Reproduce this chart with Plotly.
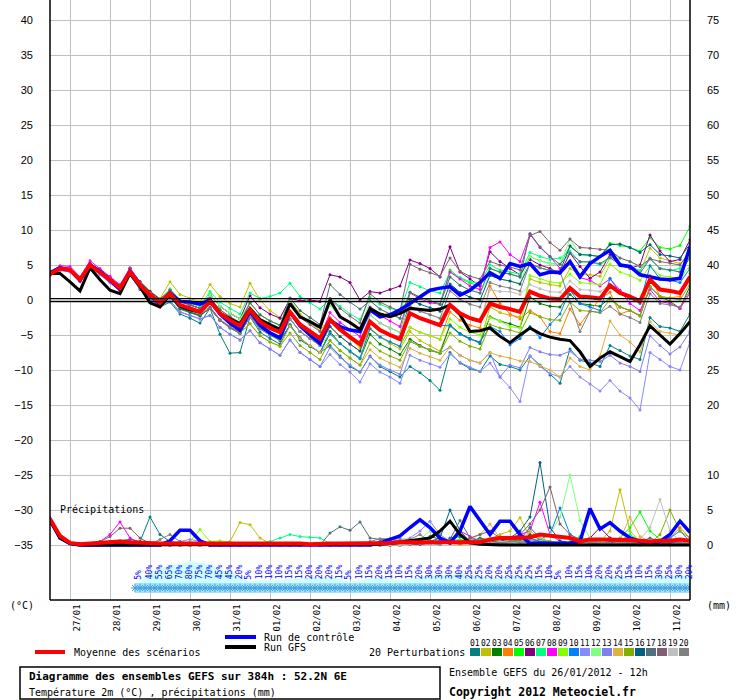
import plotly.graph_objects as go

# time steps every 6 h from 26/01 12h to 384 h
hours = list(range(0, 385, 6))

dates = ["27/01", "28/01", "29/01", "30/01", "31/01", "01/02", "02/02", "03/02",
         "04/02", "05/02", "06/02", "07/02", "08/02", "09/02", "10/02", "11/02"]
date_hours = [12 + 24 * k for k in range(len(dates))]

left_ticks = [40, 35, 30, 25, 20, 15, 10, 5, 0, -5, -10, -15, -20, -25, -30, -35]
right_ticks = [75, 70, 65, 60, 55, 50, 45, 40, 35, 30, 25, 20, 10, 5, 0]

# 2m temperature (°C)
t_mean = [3.7, 4.5, 4.3, 2.9, 5.0, 4.0, 2.9, 1.7, 4.0, 2.1, 0.7, -0.4, 0.9, -0.7, -1.2, -1.7,
          -0.2, -1.9, -2.9, -3.7, -1.4, -3.1, -4.0, -4.6, -1.7, -3.5, -4.5, -5.5, -2.8, -4.2, -5.3, -6.3,
          -3.1, -4.3, -5.0, -5.6, -1.9, -2.6, -3.1, -3.6, -0.7, -1.9, -2.6, -3.0, -0.5, -1.0, -1.3, -1.7,
          1.2, 0.6, 0.2, 0.1, 1.7, 0.5, 0.4, 0.2, 2.1, 1.0, 0.5, -0.2, 2.9, 1.5, 1.3, 1.0, 3.3]
t_gfs = [3.8, 3.8, 2.6, 1.3, 4.6, 2.9, 1.4, 0.9, 3.8, 1.9, -0.4, -1.0, 0.7, -0.9, -1.4, -1.7,
         -0.2, -1.9, -2.7, -3.4, -1.2, -2.8, -3.5, -4.2, -0.5, -2.4, -3.1, -3.9, 0.0, -2.4, -3.2, -4.2,
         -1.2, -2.0, -2.4, -1.9, -1.2, -1.3, -1.5, -1.3, -0.7, -2.1, -4.5, -4.4, -4.0, -5.2, -6.1, -5.0,
         -4.0, -4.8, -5.3, -5.6, -5.8, -7.4, -9.5, -8.3, -7.4, -8.1, -8.8, -6.4, -3.7, -5.0, -6.3, -4.8, -3.1]
t_ctrl = [3.9, 4.6, 4.3, 2.8, 5.0, 4.1, 2.8, 1.5, 4.1, 2.0, 0.6, -0.6, 1.0, -0.2, -0.3, -0.6,
          0.0, -2.0, -3.3, -4.3, -1.6, -3.6, -4.7, -5.4, -1.7, -3.7, -5.0, -6.2, -2.9, -3.8, -4.3, -4.5,
          -1.4, -2.4, -2.1, -1.4, -0.5, 0.5, 1.4, 1.7, 1.9, 0.7, 1.4, 2.5, 3.9, 3.1, 5.2, 4.8,
          5.2, 3.6, 4.0, 3.9, 5.5, 3.3, 5.2, 6.2, 7.1, 5.0, 4.8, 3.6, 3.3, 3.0, 2.9, 3.1, 7.6]

p01 = [3.6, 4.4, 4.2, 2.8, 5.1, 3.9, 2.7, 1.5, 3.6, 1.5, 0.1, -1.0, -0.3, -2.0, -2.6, -3.3,
       -1.2, -4.9, -7.6, -7.5, -2.4, -4.6, -5.5, -6.3, -3.5, -5.7, -6.6, -7.5, -6.5, -8.0, -9.5, -10.3,
       -8.0, -9.5, -10.2, -11.0, -9.5, -10.4, -11.5, -12.9, -7.5, -9.0, -9.8, -10.2, -8.0, -9.2, -9.5, -10.0,
       -8.0, -9.3, -10.7, -11.9, -7.0, -8.6, -9.0, -9.5, -6.5, -7.2, -8.0, -8.5, -2.5, -3.8, -4.0, -4.5, -2.0]
p02 = [3.8, 4.6, 4.4, 3.0, 5.3, 4.3, 3.2, 2.0, 4.5, 2.6, 1.3, 0.2, 2.6, 0.8, 0.2, -0.3,
       2.2, 0.5, -0.5, -1.0, 2.4, 0.0, -1.5, -2.5, 0.0, -2.0, -3.2, -4.4, -2.5, -4.0, -5.5, -6.8,
       -4.0, -5.2, -6.2, -7.0, -4.5, -5.8, -6.5, -7.3, -3.5, -4.8, -5.6, -6.0, -1.0, -1.8, -2.2, -2.4,
       3.0, 2.5, 2.2, 2.0, 4.5, 3.6, 3.6, 3.4, 6.0, 5.2, 4.7, 4.0, 7.4, 6.0, 5.6, 5.2, 6.5]
p03 = [3.7, 4.4, 4.2, 2.9, 4.9, 4.0, 2.9, 1.6, 4.1, 2.0, 0.6, -0.6, 0.4, -1.3, -1.8, -2.3,
       -1.1, -2.9, -4.0, -4.8, -2.2, -4.0, -5.0, -5.8, -3.6, -5.4, -6.6, -7.5, -4.5, -6.2, -7.4, -8.4,
       -4.9, -6.3, -7.0, -7.8, -5.6, -6.5, -7.2, -7.6, -3.6, -4.8, -5.5, -6.2, -2.4, -3.0, -3.4, -3.9,
       0.4, -0.5, -0.9, -1.0, 0.8, -0.5, -0.7, -0.9, 0.3, -1.0, -1.5, -2.3, 1.9, 0.5, -0.2, -1.2, 2.0]
p04 = [3.8, 4.6, 4.4, 3.0, 5.2, 4.2, 3.1, 1.9, 4.5, 2.6, 1.2, 0.1, 1.4, -0.2, -0.7, -1.2,
       0.3, -1.4, -2.4, -3.2, -0.4, -2.1, -3.0, -3.6, -1.7, -3.5, -4.5, -5.5, -3.8, -5.2, -6.3, -7.3,
       -4.1, -5.3, -6.0, -6.6, -3.9, -4.6, -5.1, -5.6, -1.7, -2.9, -3.6, -4.0, 2.0, -0.5, -2.0, -2.7,
       -1.5, -2.4, -4.5, -4.8, -1.3, -3.5, -1.6, 0.2, 1.1, -2.0, -1.5, -2.2, 3.5, 0.5, 0.3, 0.5, 3.8]
p05 = [3.7, 4.5, 4.3, 2.9, 5.0, 4.0, 2.9, 1.7, 4.5, 2.6, 1.2, 0.1, 1.4, -0.2, -0.7, -1.2,
       0.8, -0.9, -1.9, -2.7, -0.4, -2.1, -3.0, -3.6, -1.7, -3.5, -4.5, -5.5, -2.8, -4.2, -5.3, -6.3,
       -2.1, -3.3, -4.0, -4.6, 1.1, 0.4, -0.1, -0.6, 4.3, 3.1, 2.4, 2.0, 4.5, 4.0, 3.7, 3.3,
       6.2, 5.6, 5.2, 5.1, 7.7, 6.5, 6.4, 6.2, 8.1, 7.8, 7.5, 7.0, 8.9, 7.5, 7.3, 7.8, 10.5]
p06 = [3.8, 4.7, 4.5, 3.1, 5.2, 4.3, 3.2, 2.0, 4.5, 2.6, 1.2, 0.1, 1.4, -0.2, -0.7, -1.2,
       0.8, -0.9, -1.9, -2.7, 0.6, -1.1, -2.0, -2.6, 0.2, -0.1, 0.0, -0.2, 3.6, 3.3, 2.5, 0.0,
       1.2, 1.0, 1.5, 2.0, 5.7, 5.2, 4.5, 3.3, 7.6, 4.0, 3.0, 2.0, 6.9, 5.5, 4.5, 3.6,
       5.8, 5.0, 4.5, 3.8, 6.7, 4.8, 3.1, 4.0, 6.5, 5.0, 4.5, 5.0, 9.3, 7.0, 5.5, 5.8, 8.6]
p07 = [3.8, 4.6, 4.3, 2.9, 5.1, 4.1, 3.0, 1.8, 4.3, 2.3, 0.9, -0.1, 1.6, 0.0, -0.4, -0.9,
       1.2, -0.3, -1.2, -2.0, 1.0, 0.2, 0.5, 1.0, 2.4, 0.5, -0.4, -1.3, 0.2, -0.9, -2.0, -2.8,
       0.4, -0.6, -1.2, -1.6, 2.5, 1.9, 1.3, 1.0, 4.0, 3.2, 2.6, 2.4, 5.0, 4.3, 4.0, 3.7,
       6.8, 6.2, 5.8, 6.0, 7.0, 5.4, 5.5, 5.0, 6.0, 5.2, 4.8, 4.2, 6.0, 4.5, 4.2, 4.5, 6.0]
p08 = [4.0, 4.9, 4.8, 3.3, 5.6, 4.5, 3.4, 2.2, 4.6, 2.5, 0.9, -0.3, 0.8, -0.9, -1.4, -1.9,
       -1.0, -2.8, -3.8, -4.6, -2.3, -4.0, -4.8, -5.5, -1.7, -3.4, -4.4, -5.4, -1.8, -3.2, -4.2, -5.2,
       -1.0, -2.2, -3.0, -3.8, 1.0, 0.2, -0.4, -0.6, 4.0, 3.0, 2.0, 1.5, 7.5, 8.3, 6.5, 5.5,
       9.4, 7.5, 6.2, 4.5, 5.5, 3.2, 2.8, 2.0, 3.0, 1.4, -0.5, -1.5, 1.5, -0.2, -0.5, -1.2, 1.0]
p09 = [3.6, 4.4, 4.2, 2.8, 4.9, 3.9, 2.8, 1.6, 4.0, 2.1, 0.7, -0.4, 0.9, -0.7, -1.2, -1.7,
       -1.2, -2.9, -3.9, -4.7, -2.4, -4.1, -5.0, -5.6, -2.7, -4.5, -5.5, -6.5, -4.8, -6.2, -7.3, -8.3,
       -4.1, -5.3, -6.0, -6.6, -3.9, -4.6, -5.1, -5.6, -2.7, -3.9, -4.6, -5.0, -2.5, -3.0, -3.8, -4.0,
       3.5, 3.0, 2.6, 2.4, 3.7, 2.5, 2.4, 2.2, 5.1, 4.0, 3.5, 2.8, 4.9, 3.5, 3.3, 3.0, 5.0]
p10 = [3.7, 4.3, 4.1, 2.7, 4.8, 3.7, 2.6, 1.4, 4.0, 2.0, 0.6, -0.5, 0.4, -1.2, -1.7, -2.2,
       -1.2, -2.9, -3.9, -4.7, -2.4, -4.1, -5.0, -5.6, -3.7, -5.5, -6.5, -7.5, -4.8, -6.2, -7.3, -8.3,
       -4.1, -5.3, -6.0, -6.6, -1.9, -2.6, -3.1, -3.6, -3.7, -4.9, -5.6, -6.0, -3.8, -4.5, -6.4, -5.5,
       -3.8, -5.4, -3.5, -2.0, 1.4, -0.5, -1.0, -1.5, 3.1, 1.0, 0.2, -0.5, 4.9, 3.0, 2.8, 2.5, 4.5]
p11 = [3.6, 4.2, 4.0, 2.6, 4.7, 3.6, 2.5, 1.3, 3.5, 1.6, 0.2, -0.9, -0.1, -1.7, -2.2, -2.7,
       -2.2, -3.9, -4.9, -5.7, -4.4, -6.1, -7.0, -7.9, -5.7, -7.5, -8.5, -9.5, -7.8, -9.2, -10.3, -11.7,
       -9.1, -10.3, -11.0, -11.9, -7.9, -8.6, -9.1, -9.6, -7.7, -8.9, -9.6, -10.2, -9.0, -11.0, -12.5, -14.5,
       -8.0, -9.5, -10.5, -11.0, -9.5, -11.0, -12.0, -13.0, -11.5, -13.0, -14.0, -15.7, -7.5, -8.5, -9.5, -10.0, -6.0]
p12 = [3.7, 4.5, 4.4, 3.0, 5.0, 4.0, 2.9, 1.7, 4.3, 2.4, 1.0, -0.1, 1.4, -0.2, -0.7, -1.2,
       0.8, -0.9, -1.9, -2.7, -0.4, -2.1, -3.0, -3.6, 0.3, -1.5, -2.5, -3.5, -0.8, -2.2, -3.3, -4.3,
       -0.1, -1.3, -2.0, -2.6, 1.1, 0.4, -0.1, -0.6, 3.3, 2.1, 1.4, 1.0, 3.5, 3.0, 2.7, 2.3,
       6.2, 5.6, 5.2, 5.1, 8.7, 6.5, 6.4, 6.2, 7.1, 6.0, 5.5, 4.8, 5.9, 4.5, 4.3, 4.0, 6.3]
p13 = [3.6, 4.3, 4.1, 2.7, 4.7, 3.7, 2.6, 1.4, 3.5, 1.6, 0.2, -0.9, -0.1, -1.7, -2.2, -2.7,
       -2.2, -3.9, -4.9, -5.7, -4.4, -6.1, -7.0, -7.9, -5.7, -7.5, -8.5, -9.5, -6.8, -8.2, -9.3, -10.3,
       -8.1, -9.3, -10.0, -10.6, -5.9, -6.6, -7.1, -7.6, -6.7, -7.9, -8.6, -9.0, -7.5, -11.0, -9.3, -9.7,
       -6.8, -7.4, -7.8, -7.9, -7.3, -8.5, -8.6, -8.8, -7.9, -9.0, -9.5, -10.2, -5.1, -6.5, -7.7, -6.7, -4.5]
p14 = [3.7, 4.5, 4.3, 2.9, 5.0, 4.0, 2.9, 1.7, 4.0, 2.1, 0.7, -0.4, 0.4, -1.2, -1.7, -2.2,
       -1.2, -2.9, -3.9, -4.7, -3.4, -5.1, -6.0, -6.6, -3.7, -5.5, -6.5, -7.5, -5.8, -7.2, -8.3, -9.3,
       -7.1, -8.3, -9.0, -9.6, -6.9, -7.6, -8.1, -8.6, -6.7, -7.9, -8.6, -9.0, -7.5, -8.0, -8.3, -8.7,
       -8.8, -9.4, -10.0, -11.0, -8.3, -9.5, -10.0, -8.0, -3.0, -5.0, -6.0, -7.4, -3.1, -4.5, -4.7, -5.0, -2.7]
p15 = [3.7, 4.5, 4.3, 2.9, 5.0, 4.0, 2.9, 1.7, 3.7, 1.8, 0.4, -0.7, 0.4, -1.2, -1.7, -2.2,
       -1.2, -2.9, -3.9, -4.7, -3.4, -5.1, -6.0, -6.6, -4.7, -6.5, -7.5, -8.5, -5.8, -7.2, -8.3, -9.3,
       -6.1, -7.3, -8.0, -8.6, -5.9, -6.6, -7.1, -7.6, -4.7, -5.9, -6.6, -7.0, -3.5, -4.0, -4.3, -4.7,
       -1.8, -2.4, -2.8, -2.9, -0.3, -1.5, -1.6, -1.8, 0.1, -1.0, -1.5, -2.2, 1.9, 0.5, 0.3, 0.0, 2.3]
p16 = [3.7, 4.5, 4.3, 2.9, 5.0, 4.0, 2.9, 1.7, 4.0, 2.1, 0.7, -0.4, 0.4, -1.2, -1.7, -2.2,
       -1.2, -2.9, -3.9, -4.7, -2.4, -4.1, -5.0, -5.6, -2.7, -4.5, -5.5, -6.5, -3.8, -5.2, -6.3, -7.3,
       -3.1, -4.3, -5.0, -5.6, 0.1, -0.6, -1.1, -1.6, 2.3, 1.1, 0.4, 0.0, 3.5, 3.0, 2.7, 2.3,
       5.2, 4.6, 4.2, 4.1, 7.7, 6.5, 6.4, 6.2, 7.9, 8.0, 7.5, 6.8, 7.9, 6.5, 6.3, 6.0, 8.0]
p17 = [3.8, 4.6, 4.4, 3.0, 5.1, 4.1, 3.0, 1.8, 4.3, 2.4, 1.0, -0.1, 1.4, -0.2, -0.7, -1.2,
       0.3, -1.4, -2.4, -3.2, -0.4, -2.1, -3.0, -3.6, 0.3, -1.5, -2.5, -3.5, 2.2, 0.8, -0.3, -1.3,
       -0.1, -1.3, -2.0, -2.6, 1.1, 0.4, -0.1, -0.6, 3.3, 2.1, 1.4, 1.0, 4.5, 4.0, 3.7, 3.3,
       9.5, 7.6, 6.2, 5.1, 6.7, 5.5, 5.4, 5.2, 6.1, 5.0, 4.5, 3.8, 5.9, 4.5, 4.3, 4.0, 6.0]
p18 = [3.7, 4.5, 4.3, 2.9, 5.0, 4.0, 2.9, 1.7, 4.3, 2.4, 1.0, -0.1, 1.4, -0.2, -0.7, -1.2,
       -0.2, -1.9, -2.9, -3.7, -1.4, -3.1, -4.0, -4.6, -0.7, -2.5, -3.5, -4.5, 0.2, -1.2, -2.3, -3.3,
       0.9, -0.3, -1.0, -1.6, 5.1, 4.4, 3.9, 3.4, 6.0, 4.1, 3.4, 3.0, 5.5, 5.0, 4.7, 4.3,
       9.2, 9.8, 8.2, 7.1, 8.7, 7.5, 7.4, 7.2, 7.1, 6.0, 5.5, 4.8, 5.9, 5.5, 5.3, 5.0, 7.0]
p19 = [3.7, 4.5, 4.3, 2.9, 5.0, 4.0, 2.9, 1.7, 4.0, 2.1, 0.7, -0.4, 0.9, -0.7, -1.2, -1.7,
       -0.2, -1.9, -2.9, -3.7, -2.4, -4.1, -5.0, -5.6, -2.7, -4.5, -5.5, -6.5, -2.8, -4.2, -5.3, -6.3,
       -2.1, -3.3, -4.0, -4.6, -0.9, -1.6, -2.1, -2.6, -0.7, -1.9, -2.6, -3.0, 1.5, 1.2, 1.2, 0.8,
       2.2, 1.6, 1.2, 1.1, 2.7, 1.5, 1.4, 1.2, 2.1, 1.0, 0.5, -0.2, 2.9, 1.5, 1.3, 1.0, 3.3]
p20 = [3.5, 4.3, 4.2, 2.9, 5.0, 4.0, 2.9, 1.7, 4.0, 2.1, 0.7, -0.4, 0.6, -1.0, -1.5, -2.0,
       -1.2, -2.9, -3.9, -4.7, -2.4, -4.1, -5.0, -5.6, -2.7, -4.5, -5.5, -6.5, -2.8, -4.2, -5.3, -6.3,
       -3.1, -4.3, -5.0, -5.6, -0.9, -1.6, -2.1, -2.6, 1.3, 0.1, -0.6, -1.0, 2.5, 2.0, 1.7, 1.3,
       5.2, 4.6, 4.2, 4.1, -0.3, -4.5, -1.6, -1.8, -0.9, -2.0, -2.5, -3.2, 0.9, -0.5, -0.7, -1.0, 1.3]

# precipitation (mm)
r_mean = [3.7, 1.3, 0.3, 0.1, 0.2, 0.3, 0.4, 0.5, 0.4, 0.3, 0.3, 0.2, 0.2, 0.2, 0.2, 0.3,
          0.3, 0.3, 0.2, 0.2, 0.2, 0.2, 0.2, 0.2, 0.2, 0.2, 0.1, 0.2, 0.2, 0.2, 0.2, 0.2,
          0.2, 0.3, 0.3, 0.4, 0.4, 0.4, 0.4, 0.4, 0.4, 0.4, 0.4, 0.4, 0.8, 1.0, 1.0, 1.0,
          1.1, 1.5, 1.3, 1.2, 1.0, 0.5, 0.8, 0.8, 0.8, 0.8, 0.7, 0.6, 0.5, 0.6, 0.6, 0.8, 0.6]
r_gfs = [3.5, 1.0, 0.2, 0, 0, 0, 0, 0, 0, 0, 0, 0, 0, 0, 0, 0,
         0, 0, 0, 0, 0, 0, 0, 0, 0, 0, 0, 0, 0, 0, 0, 0,
         0, 0.1, 0.2, 0.4, 0.6, 0.7, 1.0, 2.0, 3.4, 1.5, 0.3, 0.1, 0, 0, 0, 0,
         0, 0.1, 0, 0, 0, 0, 0, 0, 0, 0, 0, 0, 0, 0, 0, 0, 0]
r_ctrl = [3.6, 1.0, 0.2, 0, 0, 0, 0, 0, 0, 0, 0, 0, 0.6, 2.1, 2.1, 0.6,
          0, 0, 0, 0, 0, 0, 0, 0, 0, 0, 0, 0, 0, 0, 0, 0,
          0, 0.3, 0.8, 1.3, 2.5, 3.6, 2.5, 1.0, 0.3, 2.0, 5.5, 3.4, 1.5, 3.4, 3.4, 1.5,
          0.2, 0.3, 0.2, 0.2, 0.3, 0.5, 5.2, 2.3, 3.2, 2.0, 1.0, 0.5, 0.3, 0.5, 1.5, 3.4, 1.8]

r01 = [3.6, 1.2, 0.3, 0.1, 0.1, 0.3, 0.5, 0.6, 0.8, 0.5, 4.0, 1.5, 0.5, 0.3, 0.2, 0.1,
       0.1, 0.1, 0, 0, 0, 0, 0, 0, 0, 0, 0, 0, 0, 0, 0, 0,
       0, 0, 0, 0.2, 0.5, 0.3, 0.2, 0.1, 1.0, 1.2, 0.5, 0.3, 0.2, 0.1, 0.3, 0.8,
       2.5, 1.0, 0.3, 0.2, 0.1, 0.1, 0.3, 0.2, 0.1, 0.2, 0.1, 0, 0.2, 0.1, 0, 0.1, 0.2]
r02 = [3.4, 1.0, 0.2, 0.1, 0.1, 0.2, 0.3, 0.2, 0.1, 0.1, 0.1, 0.1, 0.1, 0, 0, 0,
       0, 0, 0.5, 3.2, 2.9, 1.0, 0.2, 0.1, 0.1, 0, 0, 0, 0, 0, 0, 0,
       0, 0.1, 0.1, 0.2, 0.3, 0.2, 0.2, 0.3, 0.5, 0.3, 0.2, 0.3, 0.8, 1.5, 2.0, 3.9,
       1.0, 0.5, 0.3, 0.2, 0.3, 0.5, 1.0, 0.5, 2.0, 7.9, 2.0, 0.5, 0.3, 0.5, 0.6, 0.3, 0.2]
r03 = [3.5, 1.1, 0.2, 0.1, 0.2, 0.3, 0.3, 0.2, 0.2, 0.1, 0.1, 0, 0, 0, 0, 0,
       0, 0, 0, 0, 0, 0, 0, 0, 0, 0, 0, 0, 0, 0, 0, 0,
       0.1, 0.2, 0.3, 0.5, 0.8, 0.5, 1.2, 0.8, 0.5, 0.3, 0.5, 1.0, 0.6, 0.3, 0.3, 0.5,
       1.5, 0.8, 0.5, 0.3, 0.2, 0.3, 0.2, 0.1, 0.5, 0.3, 0.2, 0.1, 0.3, 0.2, 0.4, 0.5, 0.3]
r04 = [3.3, 1.0, 0.2, 0.1, 0.1, 0.1, 0.1, 0.1, 0, 0, 0, 0, 0, 0, 0, 0,
       0, 0, 0, 0, 0, 0, 0, 0, 0, 0, 0, 0, 0, 0, 0, 0,
       0, 0, 0, 0.1, 0.2, 0.1, 0.3, 0.5, 0.2, 0.1, 0.2, 0.3, 0.5, 1.2, 0.8, 0.5,
       0.3, 0.6, 0.4, 0.2, 0.1, 0.2, 0.3, 0.5, 1.0, 0.6, 0.3, 0.2, 0.1, 0.5, 1.0, 2.5, 1.0]
r05 = [3.5, 1.1, 0.3, 0.1, 0.1, 0.2, 0.2, 0.1, 0, 0, 0, 0, 0, 0, 0, 0,
       0, 0, 0, 0, 0, 0, 0, 0, 0, 0, 0, 0, 0, 0, 0, 0,
       0, 0.1, 0.3, 0.5, 0.6, 0.3, 0.2, 0.2, 0.5, 0.8, 0.4, 0.3, 0.2, 0.3, 0.5, 0.4,
       0.3, 0.2, 0.2, 0.1, 0.5, 1.2, 0.6, 0.3, 0.5, 1.0, 2.5, 4.7, 2.0, 0.8, 0.5, 0.3, 0.2]
r06 = [3.4, 1.0, 0.2, 0.1, 0.2, 0.2, 0.2, 0.2, 0.1, 0.1, 0, 0, 0, 0, 0, 0,
       0, 0, 0, 0, 0, 0, 0, 0, 0, 0, 0, 0, 0, 0, 0, 0,
       0, 0, 0, 0, 0.1, 0.1, 0.2, 0.2, 0.3, 0.2, 0.3, 0.5, 0.3, 0.2, 0.5, 1.0,
       0.5, 0.3, 0.2, 0.1, 0.1, 0.2, 1.0, 2.5, 1.0, 0.5, 0.3, 0.2, 0.1, 0.2, 0.3, 0.2, 0.1]
r07 = [3.5, 1.2, 0.3, 0.1, 0.1, 0.2, 0.3, 0.2, 0.1, 0.1, 0, 0, 0, 0, 0, 0,
       0, 0, 0, 0, 0, 0, 0.5, 1.0, 1.5, 1.2, 1.1, 1.0, 0.2, 0, 0, 0,
       0, 0, 0, 0, 0.2, 0.3, 0.5, 0.2, 0.5, 0.3, 0.4, 0.6, 0.5, 0.6, 0.3, 0.2,
       0.5, 0.8, 0.5, 0.4, 0.3, 1.0, 0.5, 0.3, 0.5, 0.6, 1.5, 0.6, 0.3, 0.5, 0.4, 0.3, 0.2]
r08 = [3.9, 1.3, 0.3, 0.1, 0.2, 0.5, 1.5, 3.3, 1.0, 0.3, 0.1, 0, 0, 0, 0, 0,
       0, 0, 0, 0, 0, 0, 0, 0, 0, 0, 0, 0, 0, 0, 0, 0,
       0, 0, 0, 0, 0.1, 0.3, 0.5, 0.3, 0.5, 2.0, 1.2, 0.5, 0.3, 0.5, 1.0, 1.5,
       2.0, 6.1, 1.5, 0.5, 0.3, 0.5, 0.2, 0.3, 0.2, 0.3, 0.5, 0.2, 0.2, 0.3, 0.2, 0.5, 0.3]
r09 = [3.4, 1.0, 0.2, 0.1, 0.1, 0.2, 0.2, 0.1, 0, 0, 0, 0, 0, 0, 0.5, 2.2,
       0.5, 0.6, 0.4, 0.1, 0, 0, 0, 0, 0, 0, 0, 0, 0, 0, 0, 0,
       0, 0, 0, 0, 0.3, 0.2, 0.5, 0.3, 0.2, 0.5, 0.3, 0.2, 0.3, 0.2, 0.5, 0.6,
       0.3, 0.5, 0.3, 0.2, 0.5, 0.3, 0.2, 0.5, 0.6, 0.3, 0.2, 0.3, 0.2, 0.3, 0.5, 0.5, 0.3]
r10 = [3.4, 1.0, 0.2, 0.1, 0.1, 0.1, 0.2, 0.1, 0, 0, 0, 0, 0, 0, 0, 0,
       0, 0, 0, 0, 0, 0, 0, 0, 0, 0, 0, 0, 0, 0, 0, 0,
       0, 0, 0, 0, 0.2, 0.5, 0.3, 0.2, 0.3, 0.5, 0.6, 0.8, 0.5, 0.3, 0.2, 0.5,
       0.3, 0.8, 1.5, 5.3, 1.5, 0.6, 0.5, 0.3, 0.2, 0.3, 0.3, 0.5, 0.2, 0.5, 1.0, 2.0, 0.5]
r11 = [3.7, 1.1, 0.3, 0.2, 0.1, 0.2, 0.3, 0.3, 0.2, 0.3, 0.2, 0.1, 0.2, 0.5, 0.8, 0.5,
       0.3, 0.1, 0, 0, 0, 0, 0, 0, 0, 0, 0, 0, 0, 0, 0, 0,
       0.1, 0.2, 0.3, 0.3, 1.0, 2.0, 3.4, 1.5, 0.5, 0.3, 0.2, 0.5, 0.6, 0.3, 0.5, 0.3,
       0.5, 0.3, 0.2, 0.3, 0.2, 0.5, 0.6, 0.3, 0.2, 0.3, 0.5, 0.3, 0.2, 0.3, 0.2, 0.3, 0.2]
r12 = [3.5, 1.0, 0.2, 0.1, 0.1, 0.2, 0.1, 0.1, 0, 0, 0, 0, 0, 0, 0, 0,
       0, 0, 0, 0, 0, 0, 0, 0, 0, 0, 0, 0, 0, 0, 0, 0,
       0, 0, 0, 0, 0.3, 0.8, 2.0, 1.0, 0.5, 0.3, 0.2, 0.2, 0.3, 0.4, 0.5, 0.8,
       0.6, 0.5, 1.5, 4.0, 10.0, 3.5, 1.0, 0.5, 0.3, 0.5, 0.2, 0.3, 0.5, 0.8, 0.4, 0.3, 0.2]
r13 = [3.3, 1.0, 0.2, 0.1, 0.2, 0.3, 0.3, 0.2, 0.2, 0.1, 0.1, 0.1, 0.1, 0.2, 0.3, 0.2,
       0.1, 0, 0, 0, 0, 0, 0, 0, 0, 0, 0, 0, 0, 0, 0, 0,
       0.2, 0.5, 0.3, 0.2, 0.2, 0.3, 0.4, 0.3, 0.2, 0.3, 0.5, 0.3, 0.2, 0.3, 0.2, 0.5,
       0.8, 0.5, 0.3, 0.4, 0.2, 0.1, 0.2, 0.3, 0.2, 0.3, 0.2, 0.3, 0.2, 0.5, 0.3, 0.2, 0.2]
r14 = [3.4, 1.0, 0.2, 0.1, 0.1, 0.1, 0.2, 0.2, 0.1, 0, 0, 0, 0, 0, 0, 0,
       0, 0, 0, 0, 0, 0, 0, 0, 0, 0, 0, 0, 0, 0, 0, 0,
       0, 0, 0, 0, 0.2, 0.3, 0.5, 0.3, 0.5, 0.6, 0.8, 1.5, 3.0, 1.0, 0.5, 0.3,
       2.0, 1.0, 0.5, 0.3, 0.2, 0.5, 0.6, 0.3, 0.5, 0.8, 4.0, 1.2, 0.5, 0.3, 0.8, 0.5, 0.3]
r15 = [3.5, 1.1, 0.2, 0.1, 0.2, 0.3, 0.3, 0.2, 0.1, 0.1, 0, 0, 0, 0, 0, 0,
       0, 0, 0, 0, 0, 0, 0, 0, 0, 0, 0, 0, 0, 0, 0, 0,
       0, 0, 0, 0, 0.1, 0.3, 0.2, 0.3, 0.5, 0.3, 0.2, 0.3, 0.5, 0.8, 0.5, 0.3,
       0.2, 0.3, 0.5, 0.3, 0.2, 0.3, 0.5, 0.3, 0.2, 0.5, 0.3, 0.5, 0.3, 1.5, 5.0, 2.0, 1.0]
r16 = [3.6, 1.2, 0.3, 0.1, 0.1, 0.2, 0.2, 0.1, 0, 0, 0, 0, 0, 0, 0, 0,
       0, 0, 0, 0, 0, 0, 0, 0, 0, 0, 0, 0, 0, 0, 0, 0,
       0, 0, 0, 0.2, 0.5, 0.3, 0.5, 1.0, 5.0, 2.0, 0.5, 0.3, 0.5, 0.5, 1.0, 2.0,
       4.0, 11.8, 2.5, 0.6, 0.3, 0.5, 0.3, 0.2, 0.3, 0.5, 0.3, 0.2, 0.3, 0.2, 0.3, 0.5, 0.3]
r17 = [3.5, 1.1, 0.3, 0.1, 0.1, 0.2, 0.4, 0.3, 0.2, 0.1, 0, 0, 0, 0, 0, 0,
       0, 0, 0, 0, 0, 0, 0, 0, 0, 0, 0, 0, 1.7, 2.6, 2.1, 3.3,
       1.0, 0.8, 0.8, 0.5, 0.3, 0.2, 0.3, 0.5, 0.8, 3.5, 1.0, 0.5, 0.3, 0.2, 0.5, 0.8,
       1.0, 0.5, 0.3, 0.2, 0.3, 0.5, 0.3, 0.2, 0.5, 0.3, 0.2, 0.5, 1.0, 0.5, 0.8, 0.5, 0.3]
r18 = [3.6, 1.2, 0.3, 0.1, 0.2, 0.5, 1.2, 2.4, 2.4, 1.0, 0.2, 0.1, 0, 0, 0, 0,
       0, 0, 0, 0, 0, 0, 0, 0, 0, 0, 0, 0, 0, 0, 0, 0,
       0, 0, 0, 0, 0.2, 0.5, 0.3, 0.2, 0.3, 0.5, 1.0, 1.5, 2.0, 1.0, 0.8, 1.5,
       3.0, 5.0, 8.3, 3.0, 1.5, 0.8, 0.5, 0.3, 0.2, 0.5, 0.3, 0.2, 0.3, 0.2, 0.5, 0.8, 0.5]
r19 = [3.4, 1.0, 0.2, 0.1, 0.1, 0.2, 0.3, 0.2, 0.1, 0.1, 0, 0, 0, 0, 0, 0,
       0, 0, 0, 0, 0, 0, 0, 0, 0, 0, 0, 0, 0, 0, 0, 0,
       0, 0, 0, 0, 0.2, 0.3, 0.2, 0.2, 0.3, 0.5, 0.3, 0.2, 0.3, 0.5, 0.4, 0.3,
       0.2, 0.5, 0.3, 0.2, 0.2, 0.3, 0.5, 0.3, 0.2, 0.3, 0.5, 0.8, 2.5, 6.5, 2.0, 0.5, 0.3]
r20 = [3.5, 1.1, 0.3, 0.1, 0.1, 0.3, 0.5, 0.4, 0.3, 0.2, 0.1, 0.8, 1.5, 0.5, 0.2, 0.1,
       0, 0, 0, 0, 0, 0, 0, 0, 0, 0, 0, 0, 0, 0, 0, 0,
       0.5, 0.9, 0.9, 0.9, 0.8, 1.5, 0.5, 0.3, 0.2, 0.3, 0.5, 0.8, 0.5, 0.3, 0.5, 0.3,
       0.2, 0.3, 0.2, 0.3, 0.2, 0.3, 0.5, 0.3, 0.2, 0.3, 0.5, 0.3, 0.2, 0.3, 0.5, 0.3, 0.2]

# snow probability (%) from +54 h
snow_hours = list(range(54, 385, 6))
snow_pct = [5, 40, 55, 65, 70, 80, 75, 70, 45, 45, 20, 5, 10, 10, 10, 15, 15, 20, 20, 20, 15, 5, 10, 15,
            20, 15, 10, 15, 20, 30, 30, 30, 40, 25, 25, 20, 20, 25, 25, 25, 15, 10, 5, 10, 15, 10,
            20, 20, 25, 15, 10, 15, 30, 25, 30, 20]

pert_names = ["01", "02", "03", "04", "05", "06", "07", "08", "09", "10",
              "11", "12", "13", "14", "15", "16", "17", "18", "19", "20"]
pert_colors = ["#008080", "#c0c000", "#008000", "#ff8000", "#00ff00", "#800080", "#00ff80",
               "#ff00ff", "#80ff00", "#0080ff", "#8888ff", "#80ff80", "#7f7ff0", "#e0b040",
               "#80b000", "#006080", "#507080", "#806070", "#c0c0c0", "#808080"]
pert_temps = [p01, p02, p03, p04, p05, p06, p07, p08, p09, p10,
              p11, p12, p13, p14, p15, p16, p17, p18, p19, p20]
pert_rain = [r01, r02, r03, r04, r05, r06, r07, r08, r09, r10,
             r11, r12, r13, r14, r15, r16, r17, r18, r19, r20]

MONO = "DejaVu Sans Mono"
PX_T = 7.0  # pixels per degree


def px(x):
    return (x - 50) / 640.0


def py(y):
    return (600 - y) / 600.0


fig = go.Figure()

# snow probability background + flakes band
snow_base = -40.43
fig.add_trace(go.Scatter(x=snow_hours, y=[snow_base] * len(snow_hours), mode="lines",
                         line=dict(width=0), hoverinfo="skip", showlegend=False))
fig.add_trace(go.Scatter(x=snow_hours, y=[snow_base + p * 0.27 / PX_T for p in snow_pct],
                         mode="lines", line=dict(width=0), fill="tonexty", fillcolor="#ccffff",
                         hoverinfo="skip", showlegend=False))
flake_x = [51 + 3 * k for k in range(112)]
fig.add_trace(go.Scatter(x=flake_x, y=[-41.14] * len(flake_x), mode="markers",
                         marker=dict(symbol="asterisk-open", size=7, color="#3d9ee0",
                                     line=dict(color="#3d9ee0", width=1)),
                         hoverinfo="skip", showlegend=False))

# precipitation (right axis)
for rain, col in zip(pert_rain, pert_colors):
    fig.add_trace(go.Scatter(x=hours, y=rain, yaxis="y2", mode="lines+markers",
                             line=dict(color=col, width=1), marker=dict(size=3, color=col),
                             hoverinfo="skip", showlegend=False))
# temperatures
for temps, col in zip(pert_temps, pert_colors):
    fig.add_trace(go.Scatter(x=hours, y=temps, mode="lines+markers",
                             line=dict(color=col, width=1), marker=dict(size=3, color=col),
                             hoverinfo="skip", showlegend=False))

for rain, temps, col, w in [(r_ctrl, t_ctrl, "#0000ff", 3.5), (r_gfs, t_gfs, "#000000", 3),
                            (r_mean, t_mean, "#ff0000", 4)]:
    fig.add_trace(go.Scatter(x=hours, y=rain, yaxis="y2", mode="lines",
                             line=dict(color=col, width=w), hoverinfo="skip", showlegend=False))
    fig.add_trace(go.Scatter(x=hours, y=temps, mode="lines",
                             line=dict(color=col, width=w), hoverinfo="skip", showlegend=False))

shapes = [
    # snow band
    dict(type="rect", xref="x", yref="y", x0=51, x1=384, y0=-41.86, y1=-40.43,
         fillcolor="#a8e2f8", line=dict(width=0), layer="below"),
    # double zero line
    dict(type="line", xref="paper", yref="y", x0=0, x1=1, y0=0.2, y1=0.2,
         line=dict(color="black", width=1.2)),
    dict(type="line", xref="paper", yref="y", x0=0, x1=1, y0=-0.22, y1=-0.22,
         line=dict(color="black", width=1.2)),
    # frame
    dict(type="line", xref="paper", yref="paper", x0=0, x1=0, y0=0, y1=1,
         line=dict(color="black", width=1.5)),
    dict(type="line", xref="paper", yref="paper", x0=1, x1=1, y0=0, y1=1,
         line=dict(color="black", width=1.5)),
    dict(type="line", xref="paper", yref="paper", x0=0, x1=1, y0=0, y1=0,
         line=dict(color="black", width=1.5)),
    # legend samples
    dict(type="line", xref="paper", yref="paper", x0=px(35), x1=px(65), y0=py(652), y1=py(652),
         line=dict(color="#ff0000", width=4)),
    dict(type="line", xref="paper", yref="paper", x0=px(225), x1=px(256), y0=py(637), y1=py(637),
         line=dict(color="#0000ff", width=4)),
    dict(type="line", xref="paper", yref="paper", x0=px(225), x1=px(256), y0=py(647), y1=py(647),
         line=dict(color="#000000", width=4)),
    # title box
    dict(type="rect", xref="paper", yref="paper", x0=px(20), x1=px(440), y0=py(699), y1=py(667),
         line=dict(color="black", width=1.5)),
]
for k, col in enumerate(pert_colors):
    shapes.append(dict(type="rect", xref="paper", yref="paper",
                       x0=px(470 + 11 * k), x1=px(480 + 11 * k), y0=py(656), y1=py(648),
                       fillcolor=col, line=dict(width=0)))

annotations = []
for h, p in zip(snow_hours, snow_pct):
    annotations.append(dict(x=h, y=-40.25, xref="x", yref="y", text=f"{p}%", textangle=-90,
                            xanchor="center", yanchor="bottom", showarrow=False, xshift=-1,
                            font=dict(family=MONO, size=8, color="#0000ff")))
for h, d in zip(date_hours, dates):
    annotations.append(dict(x=h, y=py(603), xref="x", yref="paper", text=d, textangle=-90,
                            xanchor="center", yanchor="top", showarrow=False, xshift=7,
                            font=dict(family=MONO, size=9, color="black")))
for k, name in enumerate(pert_names):
    annotations.append(dict(x=px(475 + 11 * k), y=py(643), xref="paper", yref="paper", text=name,
                            xanchor="center", yanchor="middle", showarrow=False,
                            font=dict(family=MONO, size=8, color="black")))


def label(x, y, text, size=10, anchor="left"):
    annotations.append(dict(x=px(x), y=py(y), xref="paper", yref="paper", text=text,
                            xanchor=anchor, yanchor="middle", showarrow=False,
                            font=dict(family=MONO, size=size, color="black")))


label(58, 509, "Précipitations")
label(8, 605, "(°C)")
label(705, 605, "(mm)")
label(72, 652, "Moyenne des scénarios")
label(262, 637, "Run de contrôle")
label(262, 647, "Run GFS")
label(367, 652, "20 Perturbations")
label(27, 676, "<b>Diagramme des ensembles GEFS sur 384h : 52.2N 6E</b>", size=11)
label(27, 692, "Température 2m (°C) , précipitations (mm)")
label(447, 672, "Ensemble GEFS du 26/01/2012 - 12h")
label(447, 692, "<b>Copyright 2012 Meteociel.fr</b>", size=11.5)

half = 300 / PX_T
fig.update_layout(
    width=740, height=700,
    margin=dict(l=50, r=50, t=0, b=100),
    paper_bgcolor="white", plot_bgcolor="white",
    showlegend=False,
    xaxis=dict(range=[0, 384], tickvals=date_hours, showticklabels=False, ticks="",
               showgrid=True, gridcolor="#c0c0c0", gridwidth=1, zeroline=False, showline=False,
               fixedrange=True),
    yaxis=dict(range=[-half, half], tickvals=left_ticks, ticks="", ticklabelstandoff=16,
               showgrid=True, gridcolor="#c0c0c0", gridwidth=1, zeroline=False, showline=False,
               tickfont=dict(family="Liberation Sans", size=11, color="black")),
    yaxis2=dict(range=[35 - half, 35 + half], overlaying="y", side="right", tickvals=right_ticks,
                ticks="", ticklabelstandoff=16, showgrid=False, zeroline=False, showline=False,
                tickfont=dict(family="Liberation Sans", size=11, color="black")),
    shapes=shapes,
    annotations=annotations,
)

# the page body has a default 8px margin; remove it so the figure sits at the window origin
fig.write_html("out.html", config={"displayModeBar": False},
               post_script="document.body.style.margin='0px';")
